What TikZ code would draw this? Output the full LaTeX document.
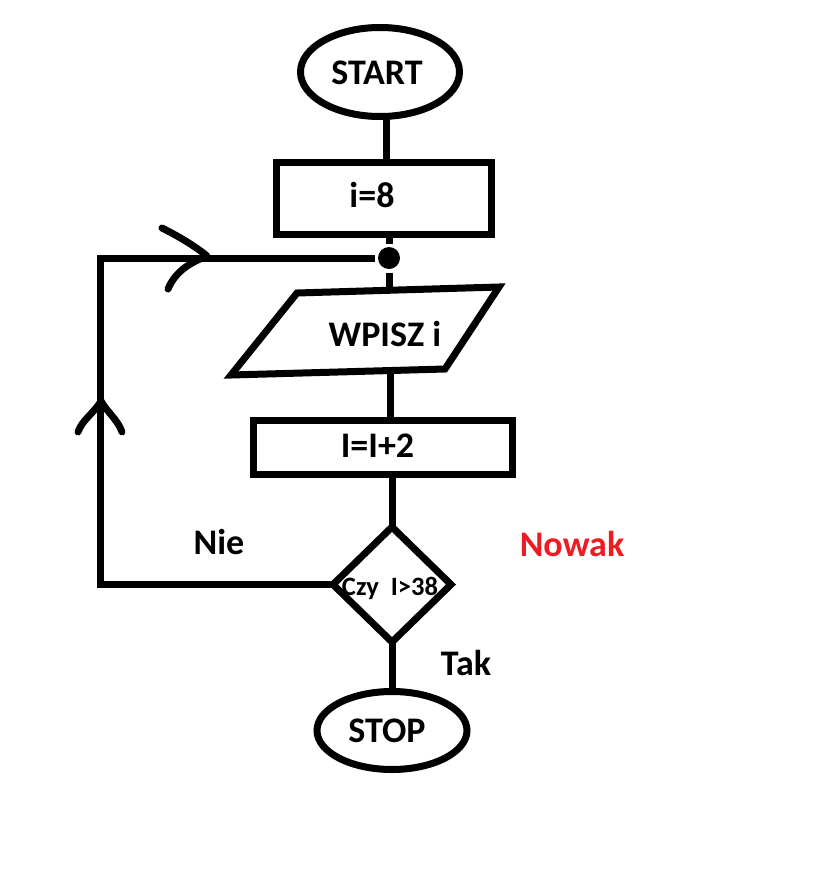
\documentclass[tikz,border=0pt]{standalone}
\usepackage{fontspec}
\setmainfont{Carlito}
\usetikzlibrary{shapes.geometric}
\definecolor{paintred}{RGB}{237,28,36}
\begin{document}
\begin{tikzpicture}[x=1pt,y=-1pt,line width=7pt,
  shp/.style={draw,line width=7pt,inner sep=0pt,outer sep=0pt},
  ellip/.style={shp,ellipse},
  box/.style={shp,rectangle},
  dia/.style={shp,diamond},
  txt/.style={inner sep=0pt,anchor=base,font=\fontsize{36}{42}\selectfont\bfseries},
  smalltxt/.style={inner sep=0pt,anchor=base,font=\fontsize{26.5}{31}\selectfont\bfseries},
  tip/.style={line width=7pt,line cap=round,line join=round}]
\fill[white] (0,0) rectangle (817,881);
\useasboundingbox (0,0) rectangle (817,881);
% shapes
\node[ellip,minimum width=159pt,minimum height=89pt] (start) at (380,72) {};
\node[txt] (tstart) at (377,84) {START};
\node[box,minimum width=215pt,minimum height=72pt] (r1) at (383.5,198.5) {};
\node[txt] (tr1) at (372,207) {i=8};
\coordinate (p1) at (297,293);
\coordinate (p2) at (499,287);
\coordinate (p3) at (445,369);
\coordinate (p4) at (231,375);
\draw[line join=miter] (p1) -- (p2) -- (p3) -- (p4) -- cycle;
\node[txt] (tpar) at (385,346) {WPISZ i};
\node[box,minimum width=259pt,minimum height=54pt] (r2) at (383,447.5) {};
\node[txt] (tr2) at (377.5,457) {I=I+2};
\node[dia,minimum width=118pt,minimum height=115pt] (dec) at (392,584.5) {};
\node[smalltxt] (tdec) at (390,595) {Czy\ \ I>38};
\node[ellip,minimum width=150pt,minimum height=78pt] (stop) at (392,730.5) {};
\node[txt] (tstop) at (387,742) {STOP};
\node[circle,fill,inner sep=0pt,minimum size=22pt] (dot) at (389,258) {};
% labels
\node[txt] (nie) at (219,554) {Nie};
\node[txt,text=paintred] (nowak) at (572,556) {Nowak};
\node[txt] (tak) at (466,675) {Tak};
% connectors
\coordinate (x1) at (386,0);
\coordinate (x2) at (389,0);
\coordinate (ptop) at (389,290);
\coordinate (pbot) at (390,370.5);
\coordinate (x4) at (392,0);
\coordinate (lc) at (100,258);
\draw (start.south -| x1) -- (r1.north -| x1);
\draw (r1.south -| x2) -- (dot);
\draw (dot) -- (ptop);
\draw (pbot) -- (r2.north -| pbot);
\draw (r2.south -| x4) -- (dec.north);
\draw (dec.south) -- (stop.north);
\draw (dec.west) -| (lc) -- (dot);
% hand-drawn arrowheads
\draw[tip] (162,228) .. controls (178,236) and (195,246) .. (207,256)
  .. controls (192,262) and (176,270) .. (168,289);
\draw[tip] (78,432) .. controls (82,420) and (95,412) .. (101,401)
  .. controls (107,412) and (118,420) .. (122,432);
\end{tikzpicture}
\end{document}
